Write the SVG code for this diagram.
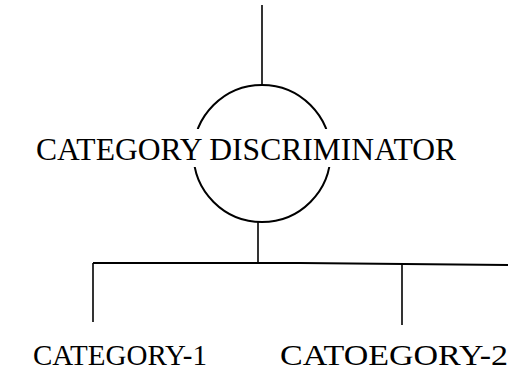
<svg xmlns="http://www.w3.org/2000/svg" width="508" height="373" viewBox="0 0 508 373">
<style>
.ln{stroke:#000;fill:none;stroke-width:1.6;stroke-linecap:butt}
.t{font-family:"Liberation Serif","Times New Roman",serif;fill:#000;font-size:30px}
</style>
<rect width="508" height="373" fill="#fff"/>
<g id="connectors">
<line class="ln" x1="262" y1="5" x2="262" y2="85"/>
<line class="ln" x1="258" y1="222" x2="258" y2="263"/>
<path class="ln" d="M93 263 L300 263 L508 265" style="stroke-width:2.2"/>
<line class="ln" x1="93" y1="263" x2="93" y2="322"/>
<line class="ln" x1="402" y1="264" x2="402" y2="325"/>
</g>
<g id="discriminator">
<circle cx="262" cy="153.5" r="68.5" fill="none" stroke="#000" stroke-width="2"/>
<rect x="34" y="129" width="424" height="38" fill="#fff"/>
<text class="t" x="36" y="160" textLength="420" lengthAdjust="spacingAndGlyphs" style="font-size:32px">CATEGORY DISCRIMINATOR</text>
</g>
<g id="category1">
<text class="t" x="33" y="365" textLength="174" lengthAdjust="spacingAndGlyphs">CATEGORY-1</text>
</g>
<g id="category2">
<text class="t" x="280" y="365" textLength="228" lengthAdjust="spacingAndGlyphs">CATOEGORY-2</text>
</g>
</svg>
